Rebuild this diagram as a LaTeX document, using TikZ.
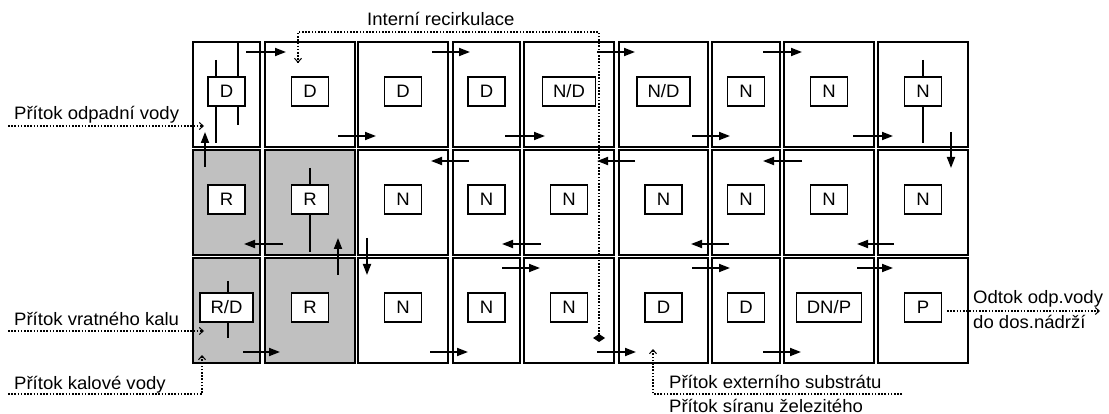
\documentclass[tikz,border=0pt]{standalone}
\usepackage{fontspec}
\setmainfont[FakeStretch=1.03]{Liberation Sans}
\usetikzlibrary{arrows.meta}
\definecolor{shade}{HTML}{C0C0C0}
\begin{document}
\begin{tikzpicture}[x=1pt,y=-1pt,
  cell/.style={draw, line width=1.4pt, rectangle, inner sep=0pt},
  lbl/.style={draw, fill=white, line width=1.4pt, minimum height=29pt, minimum width=37pt, inner xsep=10.5pt, inner ysep=0pt, font=\fontsize{18}{20}\selectfont},
  flow/.style={line width=1.8pt, -{Triangle[length=11pt,width=8pt]}},
  bar/.style={line width=1.6pt},
  feed/.style={line width=1.6pt, dash pattern=on 1.6pt off 1.6pt, -{Straight Barb[length=4pt,width=7pt,line width=1pt]}},
  txt/.style={font=\fontsize{18}{20}\selectfont, inner sep=0pt, anchor=base west}]
\useasboundingbox (0,0) rectangle (1109,414);
% cells
\foreach \c/\l/\r in {1/193/260,2/265/355,3/358/448,4/453/520,5/524/614,6/619/708,7/712/780,8/784/874,9/878/968}{
  \foreach \k/\t/\b in {1/42/147,2/150/255,3/258/363}{
    \ifnum\c<3 \ifnum\k>1 \def\fc{shade}\else\def\fc{white}\fi\else\def\fc{white}\fi
    \node[cell, fill=\fc, minimum width={(\r-\l)*1pt}, minimum height={(\b-\t)*1pt}] (c\k\c) at ({(\l+\r)/2},{(\t+\b)/2}) {};
  }
}
% vertical bars through label boxes
\draw[bar] (238,42) -- (238,125);
\draw[bar] (216,60) -- (216,143);
\draw[bar] (923,60) -- (923,143);
\draw[bar] (310,168) -- (310,252);
\draw[bar] (228,281) -- (228,338);
% label boxes
\foreach \k/\c/\s in {1/1/D,1/2/D,1/3/D,1/4/D,1/5/{N/D},1/6/{N/D},1/7/N,1/8/N,1/9/N,
  2/1/R,2/2/R,2/3/N,2/4/N,2/5/N,2/6/N,2/7/N,2/8/N,2/9/N,
  3/1/{R/D},3/2/R,3/3/N,3/4/N,3/5/N,3/6/D,3/7/D,3/8/{DN/P},3/9/P}{
  \node[lbl, yshift=3pt] (b\k\c) at (c\k\c) {\s};
}
% flow arrows row 1
\foreach \a/\b in {246/286,432/470,597/635,763/802} \draw[flow] (\a,52) -- (\b,52);
\foreach \a/\b in {338/376,505/545,692/730,853/893} \draw[flow] (\a,136) -- (\b,136);
\draw[flow] (951,132) -- (951,168);
\draw[flow] (205,167) -- (205,132);
% row 2
\foreach \a/\b in {802/763,635/597,469/431} \draw[flow] (\a,161) -- (\b,161);
\foreach \a/\b in {894/857,729/691,541/502,283/244} \draw[flow] (\a,244) -- (\b,244);
\draw[flow] (367,238) -- (367,275);
\draw[flow] (338,275) -- (338,238);
% row 3
\foreach \a/\b in {502/540,692/730,857/893} \draw[flow] (\a,268) -- (\b,268);
\foreach \a/\b in {243/280,430/468,597/636,763/801} \draw[flow] (\a,352) -- (\b,352);
% feeds
\draw[feed] (8,126) -- (204,126);
\node[txt] (t1) at (14,120) {Přítok odpadní vody};
\draw[feed] (8,331) -- (204,331);
\node[txt] (t2) at (14,325) {Přítok vratného kalu};
\draw[feed] (8,394) -- (202,394) -- (202,355);
\node[txt] (t3) at (14,389) {Přítok kalové vody};
\draw[feed, {Diamond[length=8pt,width=12pt]}-{Straight Barb[length=4pt,width=7pt,line width=1pt]}] (599,342) -- (599,32) -- (298,32) -- (298,63);
\node[txt] (t4) at (367,26) {Interní recirkulace};
\draw[feed] (902,394) -- (653,394) -- (653,349);
\node[txt] (t5) at (669,388) {Přítok externího substrátu};
\node[txt] (t6) at (669,412) {Přítok síranu železitého};
\draw[feed] (947,311) -- (1100,311);
\node[txt] (t7) at (973,303) {Odtok odp.vody};
\node[txt] (t8) at (973,328) {do dos.nádrží};
\end{tikzpicture}
\end{document}
